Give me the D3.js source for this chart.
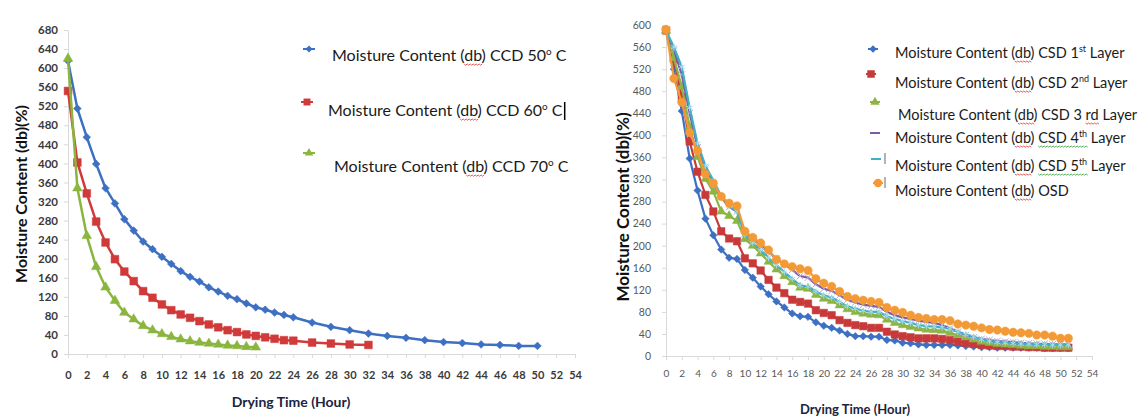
<!DOCTYPE html>
<html>
<head>
<meta charset="utf-8">
<script src="https://cdn.jsdelivr.net/npm/d3@7"></script>
<style>
  body { margin: 0; background: #fff; }
  svg { display: block; font-family: Lato, "Open Sans", sans-serif; }
</style>
</head>
<body>
<svg id="chart" width="1139" height="416"></svg>
<script>
// ---- left chart (CCD) ----
const hoursCCD50 = [0,1,2,3,4,5,6,7,8,9,10,11,12,13,14,15,16,17,18,19,20,21,22,23,24,26,28,30,32,34,36,38,40,42,44,46,48,50];
const ccd50 = [615,515,455,399,348,316,283,259,236,220,204,189,174,162,152,140,131,122,115,106,98,93,87,82,77,66,57,50,43,38,34,29,25,23,20,19,17,17];
const hoursCCD60 = [0,1,2,3,4,5,6,7,8,9,10,11,12,13,14,15,16,17,18,19,20,21,22,23,24,26,28,30,32];
const ccd60 = [552,402,337,278,234,199,173,153,132,118,104,92,83,76,69,62,56,50,46,41,38,35,32,29,28,24,22,20,19];
const hoursCCD70 = [0,1,2,3,4,5,6,7,8,9,10,11,12,13,14,15,16,17,18,19,20];
const ccd70 = [620,348,248,183,140,112,87,73,59,50,42,36,31,27,24,22,20,18,17,15,14];
const leftYTicks = [0,40,80,120,160,200,240,280,320,360,400,440,480,520,560,600,640,680];
const xTicks = [0,2,4,6,8,10,12,14,16,18,20,22,24,26,28,30,32,34,36,38,40,42,44,46,48,50,52,54];
const leftLegend = [
  ["Moisture Content (db) CCD 50", "o", " C"],
  ["Moisture Content (db) CCD 60", "o", " C"],
  ["Moisture Content (db) CCD 70", "o", " C"]
];

// ---- right chart (CSD / OSD) ----
const hoursCSD = [0,1,2,3,4,5,6,7,8,9,10,11,12,13,14,15,16,17,18,19,20,21,22,23,24,25,26,27,28,29,30,31,32,33,34,35,36,37,38,39,40,41,42,43,44,45,46,47,48,49,50,51];
const csd1 = [590,520,444,358,300,249,219,193,178,176,156,142,126,112,99,88,77,72,71,61,55,51,46,40,36,36,35,35,29,28,24,23,21,20,20,20,20,19,18,17,16,16,15,15,15,15,15,15,14,14,14,14];
const csd2 = [590,538,470,389,334,292,262,226,213,208,177,168,155,138,124,114,102,98,95,83,78,74,65,60,56,54,51,51,44,39,36,34,32,32,32,31,29,26,24,22,20,19,18,18,17,17,16,16,15,15,15,15];
const csd3 = [590,540,488,415,361,321,298,262,254,245,212,200,186,171,157,145,134,124,122,111,104,100,92,85,80,77,75,74,66,60,56,53,50,48,47,46,42,38,34,30,26,24,22,21,20,19,18,18,17,17,16,16];
const csd4 = [590,555,510,440,378,340,312,288,270,262,222,212,200,188,177,166,156,145,142,130,122,118,110,102,97,93,91,89,80,74,70,67,64,62,60,56,50,44,38,34,31,29,27,26,25,24,23,22,22,21,21,21];
const csd5 = [590,560,524,450,385,345,318,290,272,262,220,205,192,178,165,152,140,128,126,117,110,106,98,90,86,82,80,80,72,67,63,60,56,54,53,52,49,44,39,35,30,27,25,24,23,22,22,21,21,20,20,20];
const osd = [592,503,460,405,372,330,313,289,277,272,226,215,205,192,175,167,162,158,155,140,132,126,117,108,104,101,99,97,88,83,79,74,70,68,66,66,64,58,56,54,51,48,47,45,43,42,41,38,38,36,32,32];
const rightYTicks = [0,40,80,120,160,200,240,280,320,360,400,440,480,520,560,600];
const rightLegend = [
  ["Moisture Content (db) CSD 1", "st", " Layer"],
  ["Moisture Content (db) CSD 2", "nd", " Layer"],
  ["Moisture Content (db) CSD 3 rd Layer", "", ""],
  ["Moisture Content (db) CSD 4", "th", " Layer"],
  ["Moisture Content (db) CSD 5", "th", " Layer"],
  ["Moisture Content (db) OSD", "", ""]
];

const svg = d3.select("#chart");

// marker helper: returns a path for the given shape
function markerPath(shape, size) {
  const map = {
    diamond: d3.symbolSquare,
    square: d3.symbolSquare,
    triangle: d3.symbolTriangle,
    circle: d3.symbolCircle,
    times: d3.symbolTimes || d3.symbolCross,
    asterisk: d3.symbolAsterisk || d3.symbolCross
  };
  return d3.symbol(map[shape], size)();
}
const strokeShapes = ["times", "asterisk"];

function drawSeries(g, x, y, hours, values, s) {
  const pts = hours.map((h, i) => [h, values[i]]);
  g.append("path")
    .datum(pts)
    .attr("fill", "none")
    .attr("stroke", s.color)
    .attr("stroke-width", s.lw)
    .attr("stroke-linejoin", "round")
    .attr("d", d3.line().x(d => x(d[0])).y(d => y(d[1])));
  g.selectAll(null)
    .data(pts)
    .enter()
    .append("path")
    .attr("d", markerPath(s.shape, s.size))
    .attr("transform", d => `translate(${x(d[0])},${y(d[1])})` + (s.shape === "diamond" ? " rotate(45)" : ""))
    .attr("fill", strokeShapes.includes(s.shape) ? "none" : s.color)
    .attr("stroke", strokeShapes.includes(s.shape) ? s.mcolor : s.color)
    .attr("stroke-width", strokeShapes.includes(s.shape) ? 1 : 0.5);
}

function styleAxis(g, color, size, weight) {
  g.select(".domain").attr("stroke", "#d9d9d9");
  g.selectAll(".tick line").attr("stroke", "#d9d9d9");
  g.selectAll(".tick text")
    .attr("fill", color)
    .style("font-size", size + "px")
    .style("font-weight", weight)
    .style("font-family", "Lato, sans-serif");
}

// wavy spell-check underline below a substring of a text element
function squiggle(textEl, from, to, color) {
  const node = textEl.node();
  const x0 = node.getStartPositionOfChar(from).x;
  const x1 = node.getEndPositionOfChar(to).x;
  const yb = +textEl.attr("y") + 3;
  let d = `M${x0},${yb}`;
  let up = true;
  for (let xx = x0; xx < x1; xx += 1.5) {
    d += ` l1.5,${up ? 1.2 : -1.2}`;
    up = !up;
  }
  textEl.node().parentNode.appendChild(
    d3.create("svg:path").attr("d", d).attr("fill", "none")
      .attr("stroke", color).attr("stroke-width", 0.8).node());
}

function legendText(g, x, y, parts, size) {
  const t = g.append("text").attr("x", x).attr("y", y)
    .attr("fill", "#1a1a1a").style("font-size", size + "px");
  t.append("tspan").text(parts[0]);
  if (parts[1]) {
    t.append("tspan").attr("dy", -size * 0.38).style("font-size", (size * 0.62) + "px").text(parts[1]);
    t.append("tspan").attr("dy", size * 0.38).text(parts[2]);
  }
  return t;
}

// ================= LEFT CHART =================
const xL = d3.scaleLinear().domain([0, 54]).range([68, 575]);
const yL = d3.scaleLinear().domain([0, 680]).range([354, 30]);
const gL = svg.append("g");

gL.append("g").attr("transform", "translate(0,354)")
  .call(d3.axisBottom(xL).tickValues(xTicks).tickSize(4).tickSizeOuter(0).tickPadding(13))
  .call(g => styleAxis(g, "#3a3a3a", 11, "bold"));
gL.append("g").attr("transform", "translate(68,0)")
  .call(d3.axisLeft(yL).tickValues(leftYTicks).tickSize(4).tickSizeOuter(0).tickPadding(6))
  .call(g => styleAxis(g, "#3a3a3a", 11.5, "bold"));

const leftStyles = [
  { color: "#3d6fc2", shape: "diamond", size: 30, lw: 2.5 },
  { color: "#d03a3a", shape: "square", size: 60, lw: 2.5 },
  { color: "#8ab53e", shape: "triangle", size: 40, lw: 2.5 }
];
drawSeries(gL, xL, yL, hoursCCD50, ccd50, leftStyles[0]);
drawSeries(gL, xL, yL, hoursCCD60, ccd60, leftStyles[1]);
drawSeries(gL, xL, yL, hoursCCD70, ccd70, leftStyles[2]);

gL.append("text")
  .attr("transform", "translate(27,194) rotate(-90)")
  .attr("text-anchor", "middle")
  .style("font-size", "16px").style("font-weight", "bold").attr("fill", "#111")
  .text("Moisture Content (db)(%)");
gL.append("text")
  .attr("x", 291).attr("y", 407)
  .attr("text-anchor", "middle")
  .style("font-size", "14px").style("font-weight", "bold").attr("fill", "#1c2340")
  .text("Drying Time (Hour)");

// left legend
const leftLegPos = [[309, 49, 332, 61], [307, 102, 328, 116], [309, 153, 334, 172]];
leftLegend.forEach((parts, i) => {
  const [mx, my, tx, ty] = leftLegPos[i];
  const s = leftStyles[i];
  gL.append("line").attr("x1", mx - 6).attr("x2", mx + 6).attr("y1", my).attr("y2", my)
    .attr("stroke", s.color).attr("stroke-width", 2);
  gL.append("path").attr("d", markerPath(s.shape, s.size * 0.8))
    .attr("transform", `translate(${mx},${my})` + (s.shape === "diamond" ? " rotate(45)" : ""))
    .attr("fill", s.color);
  const t = legendText(gL, tx, ty, parts, 16);
  squiggle(t, 18, 19, "#e03030");
  if (i === 1) {
    const bb = t.node().getBBox();
    gL.append("line").attr("x1", bb.x + bb.width + 2).attr("x2", bb.x + bb.width + 2)
      .attr("y1", ty - 14).attr("y2", ty + 4).attr("stroke", "#000").attr("stroke-width", 1.5);
  }
});

// ================= RIGHT CHART =================
const xR = d3.scaleLinear().domain([0, 54]).range([666, 1092]);
const yR = d3.scaleLinear().domain([0, 600]).range([356, 25]);
const gR = svg.append("g");

gR.append("g").attr("transform", "translate(0,356)")
  .call(d3.axisBottom(xR).tickValues(xTicks).tickSize(4).tickSizeOuter(0).tickPadding(10))
  .call(g => styleAxis(g, "#595959", 10, "normal"));
gR.append("g").attr("transform", "translate(666,0)")
  .call(d3.axisLeft(yR).tickValues(rightYTicks).tickSize(4).tickSizeOuter(0).tickPadding(11))
  .call(g => styleAxis(g, "#595959", 10.5, "normal"));

const rightStyles = [
  { color: "#3d6fc2", shape: "diamond", size: 28, lw: 2.2 },
  { color: "#c83a3a", shape: "square", size: 56, lw: 2.2 },
  { color: "#8db444", shape: "triangle", size: 36, lw: 2.2 },
  { color: "#7a5ca6", shape: "times", size: 30, lw: 2.2, mcolor: "#b9a6d6" },
  { color: "#3fb0c8", shape: "asterisk", size: 30, lw: 2.2, mcolor: "#a6dbe8" },
  { color: "#f39a36", shape: "circle", size: 56, lw: 2.2 }
];
[csd1, csd2, csd3, csd4, csd5, osd].forEach((vals, i) => {
  drawSeries(gR, xR, yR, hoursCSD, vals, rightStyles[i]);
});

gR.append("text")
  .attr("transform", "translate(629,207) rotate(-90)")
  .attr("text-anchor", "middle")
  .style("font-size", "17px").style("font-weight", "bold").attr("fill", "#111")
  .text("Moisture Content (db)(%)");
gR.append("text")
  .attr("x", 855).attr("y", 414)
  .attr("text-anchor", "middle")
  .style("font-size", "13px").style("font-weight", "bold").attr("fill", "#1c2340")
  .text("Drying Time (Hour)");

// right legend
const rightLegPos = [[873, 49, 895, 58], [871, 74, 895, 88], [875, 102, 898, 120],
                     [875, 133, 895, 143], [876, 159, 895, 171], [878, 183, 895, 196]];
rightLegend.forEach((parts, i) => {
  const [mx, my, tx, ty] = rightLegPos[i];
  const s = rightStyles[i];
  gR.append("line").attr("x1", mx - 5).attr("x2", mx + 5).attr("y1", my).attr("y2", my)
    .attr("stroke", s.color).attr("stroke-width", 2);
  if (!strokeShapes.includes(s.shape)) {
    gR.append("path").attr("d", markerPath(s.shape, s.size))
      .attr("transform", `translate(${mx},${my})` + (s.shape === "diamond" ? " rotate(45)" : ""))
      .attr("fill", s.color);
  }
  if (i >= 4) {
    gR.append("line").attr("x1", 885).attr("x2", 885).attr("y1", my - 6).attr("y2", my + 5)
      .attr("stroke", "#666").attr("stroke-width", 1);
  }
  const t = legendText(gR, tx, ty, parts, 14.5);
  squiggle(t, 18, 19, "#e03030");
  if (i === 2) squiggle(t, 28, 29, "#e03030");
  if (i === 3 || i === 4) squiggle(t, 22, 28, "#30a030");
});
</script>
</body>
</html>
